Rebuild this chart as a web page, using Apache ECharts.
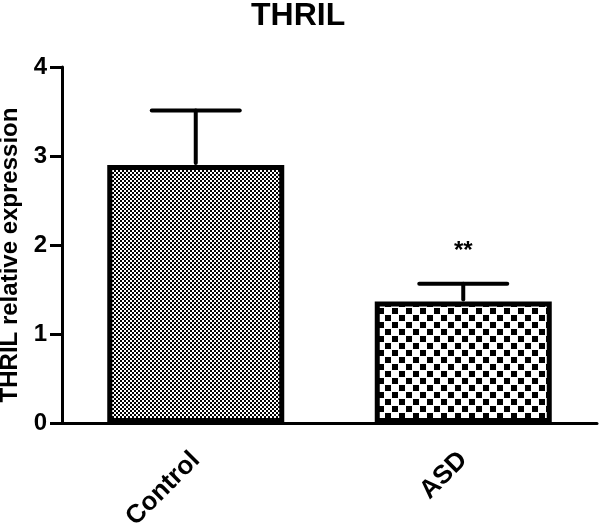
<!DOCTYPE html>
<html>
<head>
<meta charset="utf-8">
<script src="https://cdn.jsdelivr.net/npm/echarts@6/dist/echarts.min.js"></script>
<style>
  html, body { margin: 0; padding: 0; background: #fff; }
  #chart { width: 600px; height: 529px; }
</style>
</head>
<body>
<div id="chart"></div>
<script>
var categories = ['Control', 'ASD'];
var means = [2.90, 1.365];
var sems = [0.61, 0.20];
var marks = ['', '**'];
var yTicks = [0, 4, 1]; // min, max, interval

// checkerboard fills
function checker(tile, cell) {
  var c = document.createElement('canvas');
  c.width = tile;
  c.height = tile;
  var ctx = c.getContext('2d');
  ctx.fillStyle = '#fff';
  ctx.fillRect(0, 0, tile, tile);
  ctx.fillStyle = '#000';
  ctx.fillRect(0, 0, cell, cell);
  ctx.fillRect(tile / 2, tile / 2, cell, cell);
  return { image: c, repeat: 'repeat' };
}
var fills = [checker(4, 2), checker(14, 6)];

var font = 'Liberation Sans, Arial, sans-serif';
var chart = echarts.init(document.getElementById('chart'));

chart.setOption({
  animation: false,
  backgroundColor: '#fff',
  title: {
    text: 'THRIL',
    left: 246,
    top: -5,
    textStyle: { fontFamily: font, fontWeight: 'bold', fontSize: 32, color: '#000' }
  },
  grid: { left: 62, right: 3, top: 67, bottom: 106, outerBoundsMode: 'none', containLabel: false },
  xAxis: {
    type: 'category',
    data: categories,
    axisLine: { lineStyle: { color: '#000', width: 3 } },
    axisTick: { alignWithLabel: true, length: 10, lineStyle: { color: '#000', width: 3 } },
    axisLabel: {
      rotate: 45,
      margin: 33,
      color: '#000',
      fontFamily: font,
      fontWeight: 'bold',
      fontSize: 26
    }
  },
  yAxis: {
    type: 'value',
    min: yTicks[0],
    max: yTicks[1],
    interval: yTicks[2],
    name: 'THRIL relative expression',
    nameLocation: 'middle',
    nameGap: 34,
    nameTextStyle: { fontFamily: font, fontWeight: 'bold', fontSize: 24, color: '#000', padding: [0, 20, 0, 0] },
    splitLine: { show: false },
    axisLine: { show: true, lineStyle: { color: '#000', width: 3 } },
    axisTick: { show: true, length: 12, lineStyle: { color: '#000', width: 3 } },
    axisLabel: {
      margin: 15,
      color: '#000',
      fontFamily: font,
      fontWeight: 'bold',
      fontSize: 24
    }
  },
  series: [
    {
      type: 'bar',
      barWidth: 177,
      data: means.map(function (v, i) {
        return {
          value: v,
          itemStyle: { color: fills[i], borderColor: '#000', borderWidth: 5 }
        };
      })
    },
    {
      type: 'custom',
      z: 3,
      data: means.map(function (v, i) { return [i, v, sems[i]]; }),
      renderItem: function (params, api) {
        var i = api.value(0);
        var base = api.coord([i, api.value(1)]);
        var top = api.coord([i, api.value(1) + api.value(2)]);
        var half = 44;
        var style = { stroke: '#000', lineWidth: 4, lineCap: 'round' };
        var children = [
          { type: 'line', shape: { x1: top[0], y1: base[1] - 2, x2: top[0], y2: top[1] }, style: style },
          { type: 'line', shape: { x1: top[0] - half, y1: top[1], x2: top[0] + half, y2: top[1] }, style: style }
        ];
        if (marks[i]) {
          children.push({
            type: 'text',
            style: {
              text: marks[i],
              x: top[0],
              y: top[1] - 32,
              align: 'center',
              verticalAlign: 'middle',
              fill: '#000',
              font: 'bold 24px ' + font
            }
          });
        }
        return { type: 'group', children: children };
      }
    }
  ]
});
</script>
</body>
</html>
